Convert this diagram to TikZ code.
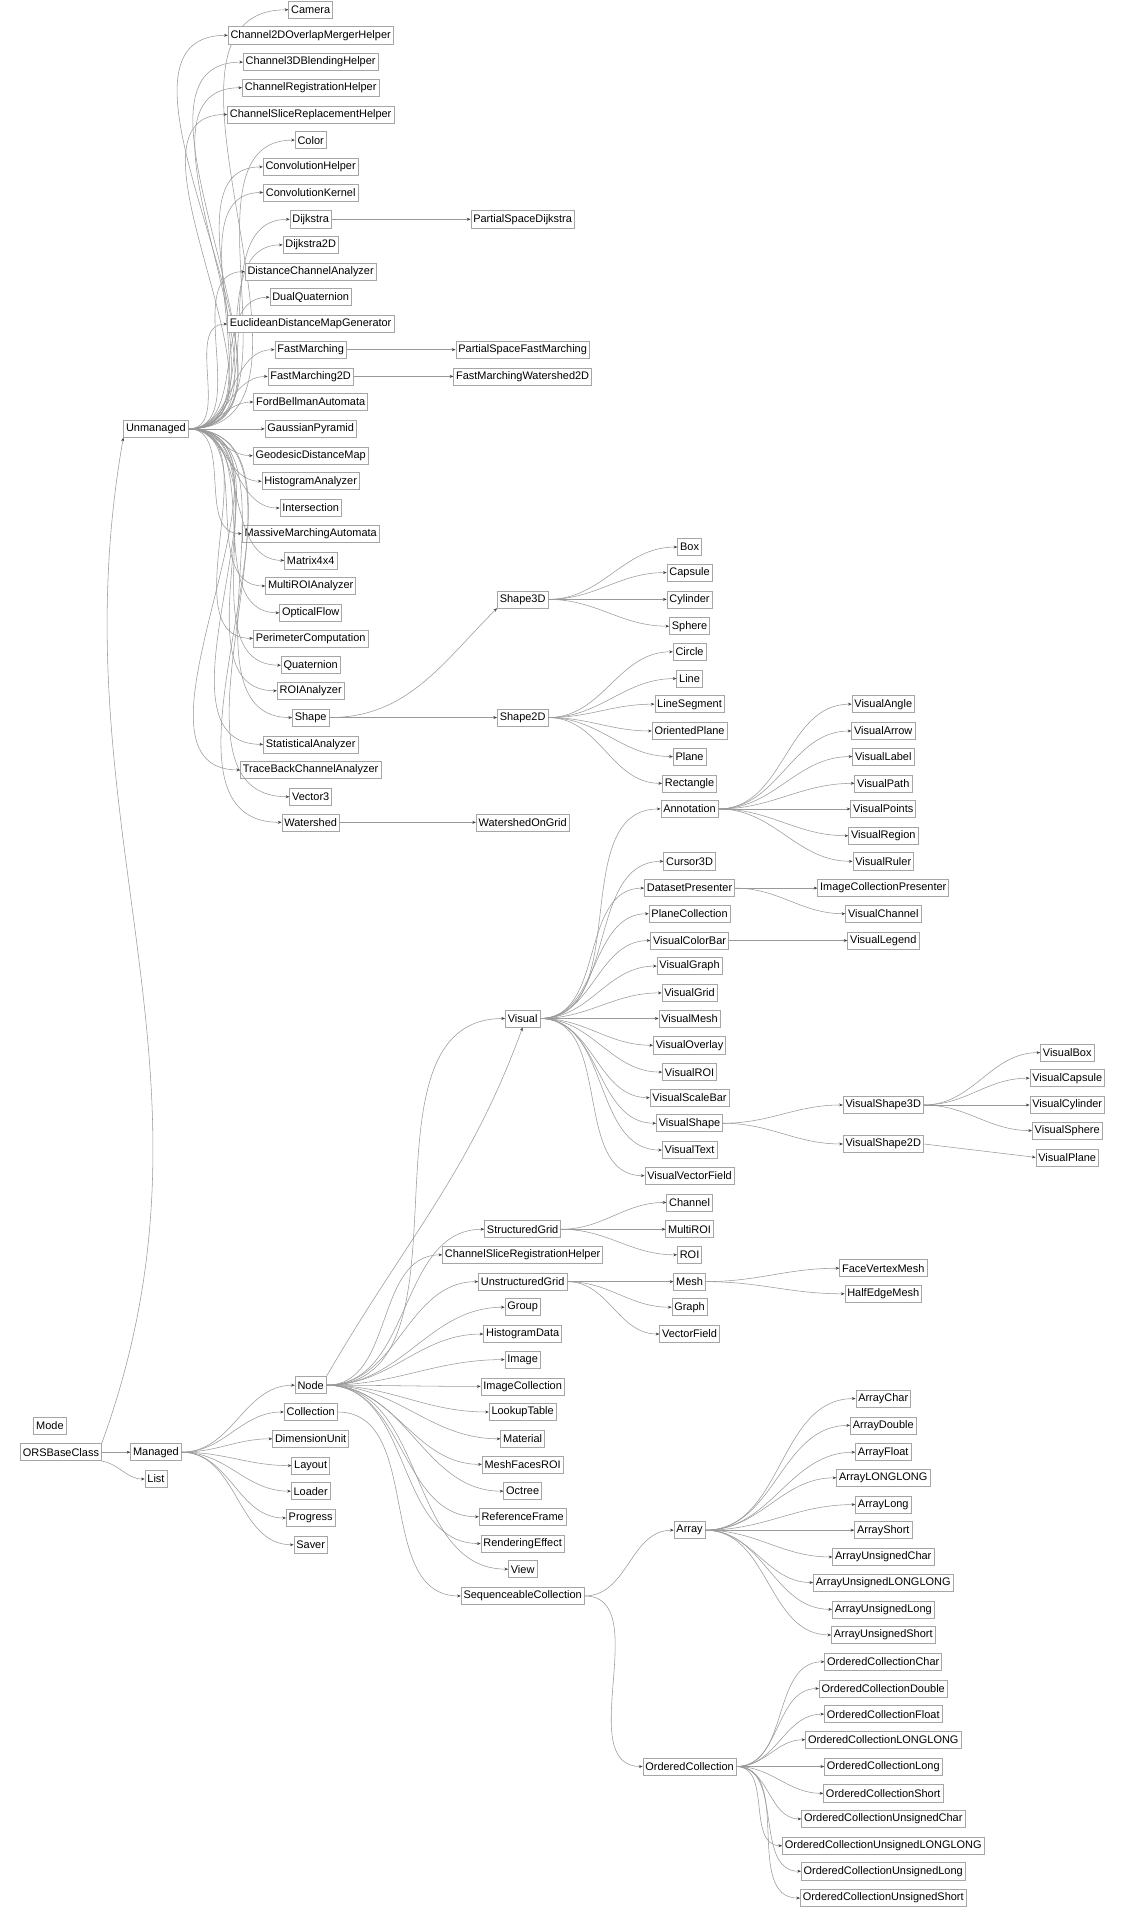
\documentclass[tikz,border=0pt]{standalone}
\usepackage{fontspec}
\setmainfont{Liberation Sans}
\usetikzlibrary{arrows.meta}
\begin{document}
\begin{tikzpicture}[x=1pt,y=-1pt,
  box/.style={draw=black!35,line width=0.5pt,fill=white,inner sep=2pt,minimum height=14pt,font=\fontsize{9}{10}\selectfont},
  edge/.style={draw=black!40,line width=0.45pt,-{Stealth[length=3pt,width=2.4pt,color=black!75]}}]
\useasboundingbox (0,0) rectangle (920,1576);
% column 1
\node[box] (ORSBaseClass) at (50,1192) {ORSBaseClass};
\node[box] (Mode) at (41,1170) {Mode};
\node[box] (Unmanaged) at (128,352) {Unmanaged};
\node[box] (Managed) at (128,1192) {Managed};
\node[box] (List) at (128,1214) {List};
% unmanaged children
\foreach \n/\y in {Camera/8,Channel2DOverlapMergerHelper/29,Channel3DBlendingHelper/51,ChannelRegistrationHelper/72,ChannelSliceReplacementHelper/94,Color/115,ConvolutionHelper/137,ConvolutionKernel/158,Dijkstra/180,Dijkstra2D/201,DistanceChannelAnalyzer/223,DualQuaternion/244,EuclideanDistanceMapGenerator/266,FastMarching/287,FastMarching2D/309,FordBellmanAutomata/330,GaussianPyramid/352,GeodesicDistanceMap/374,HistogramAnalyzer/395,Intersection/417,MassiveMarchingAutomata/438,Matrix4x4/460,MultiROIAnalyzer/481,OpticalFlow/503,PerimeterComputation/524,Quaternion/546,ROIAnalyzer/567,Shape/589,StatisticalAnalyzer/611,TraceBackChannelAnalyzer/632,Vector3/654,Watershed/675}
  {\node[box] (\n) at (255,\y) {\n};
   \draw[edge] (Unmanaged.east) to[out=0,in=180] (\n.west);}
% managed children
\foreach \n/\y in {Node/1137,Collection/1159,DimensionUnit/1181,Layout/1203,Loader/1224,Progress/1246,Saver/1268}
  {\node[box] (\n) at (255,\y) {\n};
   \draw[edge] (Managed.east) to[out=0,in=180] (\n.west);}
\draw[edge] (ORSBaseClass.north east) to[out=70,in=-100] (Unmanaged.south west);
\draw[edge] (ORSBaseClass.east) -- (Managed.west);
\draw[edge] (ORSBaseClass.south east) to[out=-10,in=180] (List.west);
% column 3
\foreach \n/\y in {PartialSpaceDijkstra/180,PartialSpaceFastMarching/287,FastMarchingWatershed2D/309,WatershedOnGrid/675,Shape3D/492,Shape2D/589,Visual/836,StructuredGrid/1009,ChannelSliceRegistrationHelper/1030,UnstructuredGrid/1052,Group/1073,HistogramData/1095,Image/1116,ImageCollection/1138,LookupTable/1159,Material/1181,MeshFacesROI/1202,Octree/1224,ReferenceFrame/1245,RenderingEffect/1267,View/1288,SequenceableCollection/1310}
  {\node[box] (\n) at (429,\y) {\n};}
\draw[edge] (Dijkstra.east) -- (PartialSpaceDijkstra.west);
\draw[edge] (FastMarching.east) -- (PartialSpaceFastMarching.west);
\draw[edge] (FastMarching2D.east) -- (FastMarchingWatershed2D.west);
\draw[edge] (Watershed.east) -- (WatershedOnGrid.west);
\draw[edge] (Shape.east) to[out=0,in=225] (Shape3D.south west);
\draw[edge] (Shape.east) -- (Shape2D.west);
\foreach \n in {Visual,StructuredGrid,ChannelSliceRegistrationHelper,UnstructuredGrid,Group,HistogramData,Image,ImageCollection,LookupTable,Material,MeshFacesROI,Octree,ReferenceFrame,RenderingEffect,View}
  {\draw[edge] (Node.east) to[out=0,in=180] (\n.west);}
\draw[edge] (Visual.north) ++(0,0) (Node.north east) to[out=60,in=250] (Visual.south);
\draw[edge] (Collection.east) to[out=0,in=180] (SequenceableCollection.west);
% column 4
\foreach \n/\y in {Box/449,Capsule/470,Cylinder/492,Sphere/514}
  {\node[box] (\n) at (566,\y) {\n}; \draw[edge] (Shape3D.east) to[out=0,in=180] (\n.west);}
\foreach \n/\y in {Circle/535,Line/557,LineSegment/578,OrientedPlane/600,Plane/621,Rectangle/643}
  {\node[box] (\n) at (566,\y) {\n}; \draw[edge] (Shape2D.east) to[out=0,in=180] (\n.west);}
\foreach \n/\y in {Annotation/664,Cursor3D/707,DatasetPresenter/729,PlaneCollection/750,VisualColorBar/772,VisualGraph/793,VisualGrid/815,VisualMesh/836,VisualOverlay/858,VisualROI/880,VisualScaleBar/901,VisualShape/922,VisualText/944,VisualVectorField/965}
  {\node[box] (\n) at (566,\y) {\n}; \draw[edge] (Visual.east) to[out=0,in=180] (\n.west);}
\foreach \n/\y in {Channel/987,MultiROI/1009,ROI/1030}
  {\node[box] (\n) at (566,\y) {\n}; \draw[edge] (StructuredGrid.east) to[out=0,in=180] (\n.west);}
\foreach \n/\y in {Mesh/1052,Graph/1073,VectorField/1095}
  {\node[box] (\n) at (566,\y) {\n}; \draw[edge] (UnstructuredGrid.east) to[out=0,in=180] (\n.west);}
\foreach \n/\y in {Array/1256,OrderedCollection/1450}
  {\node[box] (\n) at (566,\y) {\n}; \draw[edge] (SequenceableCollection.east) to[out=0,in=180] (\n.west);}
% column 5
\foreach \n/\y in {VisualAngle/578,VisualArrow/600,VisualLabel/621,VisualPath/643,VisualPoints/664,VisualRegion/686,VisualRuler/707}
  {\node[box] (\n) at (725,\y) {\n}; \draw[edge] (Annotation.east) to[out=0,in=180] (\n.west);}
\foreach \n/\y in {ImageCollectionPresenter/729,VisualChannel/750}
  {\node[box] (\n) at (725,\y) {\n}; \draw[edge] (DatasetPresenter.east) to[out=0,in=180] (\n.west);}
\node[box] (VisualLegend) at (725,772) {VisualLegend};
\draw[edge] (VisualColorBar.east) -- (VisualLegend.west);
\foreach \n/\y in {VisualShape3D/907,VisualShape2D/939}
  {\node[box] (\n) at (725,\y) {\n}; \draw[edge] (VisualShape.east) to[out=0,in=180] (\n.west);}
\foreach \n/\y in {FaceVertexMesh/1041,HalfEdgeMesh/1062}
  {\node[box] (\n) at (725,\y) {\n}; \draw[edge] (Mesh.east) to[out=0,in=180] (\n.west);}
\foreach \n/\y in {ArrayChar/1148,ArrayDouble/1170,ArrayFloat/1192,ArrayLONGLONG/1213,ArrayLong/1235,ArrayShort/1256,ArrayUnsignedChar/1278,ArrayUnsignedLONGLONG/1299,ArrayUnsignedLong/1321,ArrayUnsignedShort/1342}
  {\node[box] (\n) at (725,\y) {\n}; \draw[edge] (Array.east) to[out=0,in=180] (\n.west);}
\foreach \n/\y in {OrderedCollectionChar/1364,OrderedCollectionDouble/1386,OrderedCollectionFloat/1407,OrderedCollectionLONGLONG/1428,OrderedCollectionLong/1450,OrderedCollectionShort/1472,OrderedCollectionUnsignedChar/1493,OrderedCollectionUnsignedLONGLONG/1515,OrderedCollectionUnsignedLong/1536,OrderedCollectionUnsignedShort/1558}
  {\node[box] (\n) at (725,\y) {\n}; \draw[edge] (OrderedCollection.east) to[out=0,in=180] (\n.west);}
% column 6
\foreach \n/\y in {VisualBox/864,VisualCapsule/885,VisualCylinder/907,VisualSphere/928}
  {\node[box] (\n) at (876,\y) {\n}; \draw[edge] (VisualShape3D.east) to[out=0,in=180] (\n.west);}
\node[box] (VisualPlane) at (876,950) {VisualPlane};
\draw[edge] (VisualShape2D.east) -- (VisualPlane.west);
\end{tikzpicture}
\end{document}
